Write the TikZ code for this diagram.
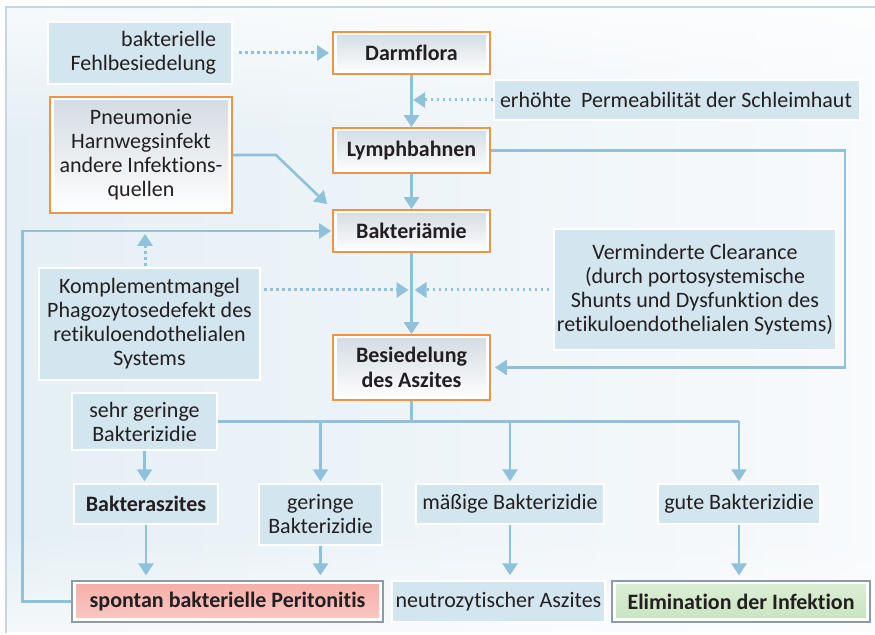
\documentclass[tikz,border=0pt]{standalone}
\usepackage{fontspec}
\setmainfont{Carlito}[Ligatures={NoCommon}]
\usetikzlibrary{arrows.meta,fadings,calc}
\definecolor{boxblue}{HTML}{D3E5EF}
\definecolor{bgL}{HTML}{E4EFF5}
\definecolor{bgM}{HTML}{D5E7F1}
\definecolor{bgR}{HTML}{F8FAFC}
\definecolor{lineC}{HTML}{8FC2DA}
\definecolor{orangeC}{HTML}{F29343}
\definecolor{frameC}{HTML}{C5D6E2}
\definecolor{grayT}{HTML}{D3DBE2}
\definecolor{txt}{HTML}{231F20}
\definecolor{pinkT}{HTML}{F6ADA7}
\definecolor{pinkB}{HTML}{FAC9C4}
\definecolor{greenT}{HTML}{DDEFD6}
\definecolor{greenB}{HTML}{C8E3BF}
\definecolor{greyB}{HTML}{8D9BA5}
\tikzfading[name=fadedown, top color=transparent!0, bottom color=transparent!100]
\tikzfading[name=fadeup, top color=transparent!100, bottom color=transparent!0]
\tikzset{
  base/.style={font=\fontsize{11}{12}\selectfont, align=center, inner sep=0pt, text=txt},
  bbox/.style={base, fill=boxblue, draw=white, line width=0.7pt},
  obox/.style={base, font=\fontsize{11}{12.5}\selectfont\bfseries, draw=orangeC, line width=0.9pt, fill=white,
    path picture={\shade[top color=grayT, bottom color=white]
      ([shift={(2pt,-2pt)}]path picture bounding box.north west) rectangle
      ([shift={(-2pt,2pt)}]path picture bounding box.south east);}},
  rbox/.style={base, font=\fontsize{11}{12}\selectfont\bfseries, draw=greyB, line width=0.6pt, fill=white,
    path picture={\shade[top color=pinkT, bottom color=pinkB]
      ([shift={(2pt,-2pt)}]path picture bounding box.north west) rectangle
      ([shift={(-2pt,2pt)}]path picture bounding box.south east);}},
  gbox/.style={base, font=\fontsize{11}{12}\selectfont\bfseries, draw=greyB, line width=0.6pt, fill=white,
    path picture={\shade[top color=greenT, bottom color=greenB]
      ([shift={(2pt,-2pt)}]path picture bounding box.north west) rectangle
      ([shift={(-2pt,2pt)}]path picture bounding box.south east);}},
  conn/.style={draw=lineC, line width=1.3pt},
  arr/.style={conn, -{Triangle[length=6pt,width=7.5pt]}},
  dotarr/.style={draw=lineC, line width=1.5pt, dash pattern=on 1.4pt off 1.6pt, -{Triangle[length=6pt,width=7.5pt]}},
}
\begin{document}
\begin{tikzpicture}[x=0.5pt,y=-0.5pt]
\useasboundingbox (0,0) rectangle (875,635);
% background
\shade[left color=bgL, middle color=bgM, right color=bgR] (6,7) rectangle (872,632);
\fill[white, path fading=fadedown, opacity=0.7] (6,7) rectangle (872,140);
\fill[white, path fading=fadeup, opacity=0.6] (6,530) rectangle (872,632);
\draw[frameC, line width=0.8pt] (6,633) -- (6,7) -- (875,7);

% main chain
\node[obox, minimum width=78.5pt, minimum height=21pt] (darm) at (411.5,53) {Darmflora};
\node[obox, minimum width=78.5pt, minimum height=22.5pt] (lymph) at (411.5,150.5) {Lymphbahnen};
\node[obox, minimum width=78.5pt, minimum height=21pt] (bakt) at (411.5,231) {Bakteriämie};
\node[obox, minimum width=78.5pt, minimum height=32.5pt] (bes) at (411.5,367.5) {Besiedelung\\des Aszites};
\node[obox, font=\fontsize{11}{12}\selectfont, minimum width=91pt, minimum height=58pt] (pneu) at (141,155) {Pneumonie\\Harnwegsinfekt\\andere Infektions-\\quellen};

% blue boxes
\node[bbox, minimum width=92pt, minimum height=31pt, text width=76pt, align=right] (fehl) at (140,53) {bakterielle\\Fehlbesiedelung};
\node[bbox, minimum width=183pt, minimum height=20pt] (perm) at (677,100) {\makebox[177pt][l]{erhöhte\hspace{0.45em}Permeabilität der Schleimhaut}};
\node[bbox, minimum width=110.5pt, minimum height=56pt] (komp) at (149.5,324) {Komplementmangel\\Phagozytosedefekt des\\retikuloendothelialen\\Systems};
\node[bbox, minimum width=141pt, minimum height=60.5pt] (verm) at (695,289.5) {Verminderte Clearance\\(durch portosystemische\\ Shunts und Dysfunktion des\\retikuloendothelialen Systems)};
\node[bbox, minimum width=72.5pt, minimum height=28.5pt] (sehr) at (144.5,421.5) {sehr geringe\\Bakterizidie};
\node[bbox, font=\fontsize{11}{12}\selectfont\bfseries, minimum width=72pt, minimum height=20pt] (bakter) at (146,504) {Bakteraszites};
\node[bbox, minimum width=61.5pt, minimum height=30.5pt] (ger) at (320.5,514.5) {geringe\\Bakterizidie};
\node[bbox, minimum width=94pt, minimum height=20pt] (maes) at (510,504) {mäßige Bakterizidie};
\node[bbox, minimum width=81pt, minimum height=20pt] (gute) at (739,504) {gute Bakterizidie};
\node[bbox, minimum width=106.5pt, minimum height=20.5pt] (neutro) at (498.5,601.5) {neutrozytischer Aszites};
\node[rbox, minimum width=155.5pt, minimum height=20.5pt] (spont) at (227.5,601.5) {spontan bakterielle Peritonitis};
\node[gbox, minimum width=129pt, minimum height=20.5pt] (elim) at (741,601.5) {Elimination der Infektion};

% connectors
\coordinate (rr) at (845,0);
\coordinate (j) at (411.5,290);
\coordinate (kk) at (145,266);

\draw[dotarr, shorten >=1.5pt] ([xshift=3pt]fehl.east) -- (darm.west);
\draw[arr] (darm.south) -- (lymph.north);
\draw[dotarr, shorten >=0.8pt] (perm.west) -- (perm.west -| darm.south);
\draw[arr, shorten >=2pt] (lymph.east) -- (lymph.east -| rr) -- (bes.east -| rr) -- (bes.east);
\draw[arr] (pneu.east) -- ++(21.5pt,0) -- ([shift={(-2.5pt,2.5pt)}]bakt.north west);
\draw[arr] (lymph.south) -- (bakt.north);
\draw[arr] (bakt.south) -- (bes.north);
\draw[dotarr, shorten >=1.5pt] ([xshift=1.5pt]komp.east |- j) -- (j);
\draw[dotarr, shorten >=1.5pt] ([xshift=-2pt]verm.west |- j) -- (j);
\draw[dotarr, shorten >=1.5pt] (kk) -- (kk |- bakt.west);
\draw[arr, shorten >=0.5pt] (spont.west) -- ++(-24.5pt,0) |- (bakt.west);

\draw[conn] (bes.south) -- (bes.south |- sehr.east);
\draw[conn] (sehr.east) -- (gute.north |- sehr.east);
\draw[arr, shorten >=1pt] (ger.north |- sehr.east) -- (ger.north);
\draw[arr, shorten >=1pt] (maes.north |- sehr.east) -- (maes.north);
\draw[arr, shorten >=1pt] (gute.north |- sehr.east) -- (gute.north);
\draw[arr, shorten >=1pt] (sehr.south) -- (sehr.south |- bakter.north);
\draw[arr, shorten >=2.5pt] (bakter.south) -- (bakter.south |- spont.north);
\draw[arr, shorten >=2.5pt] (ger.south) -- (ger.south |- spont.north);
\draw[arr, shorten >=2.5pt] (maes.south) -- (maes.south |- neutro.north);
\draw[arr, shorten >=2.5pt] (gute.south) -- (gute.south |- elim.north);
\end{tikzpicture}
\end{document}
